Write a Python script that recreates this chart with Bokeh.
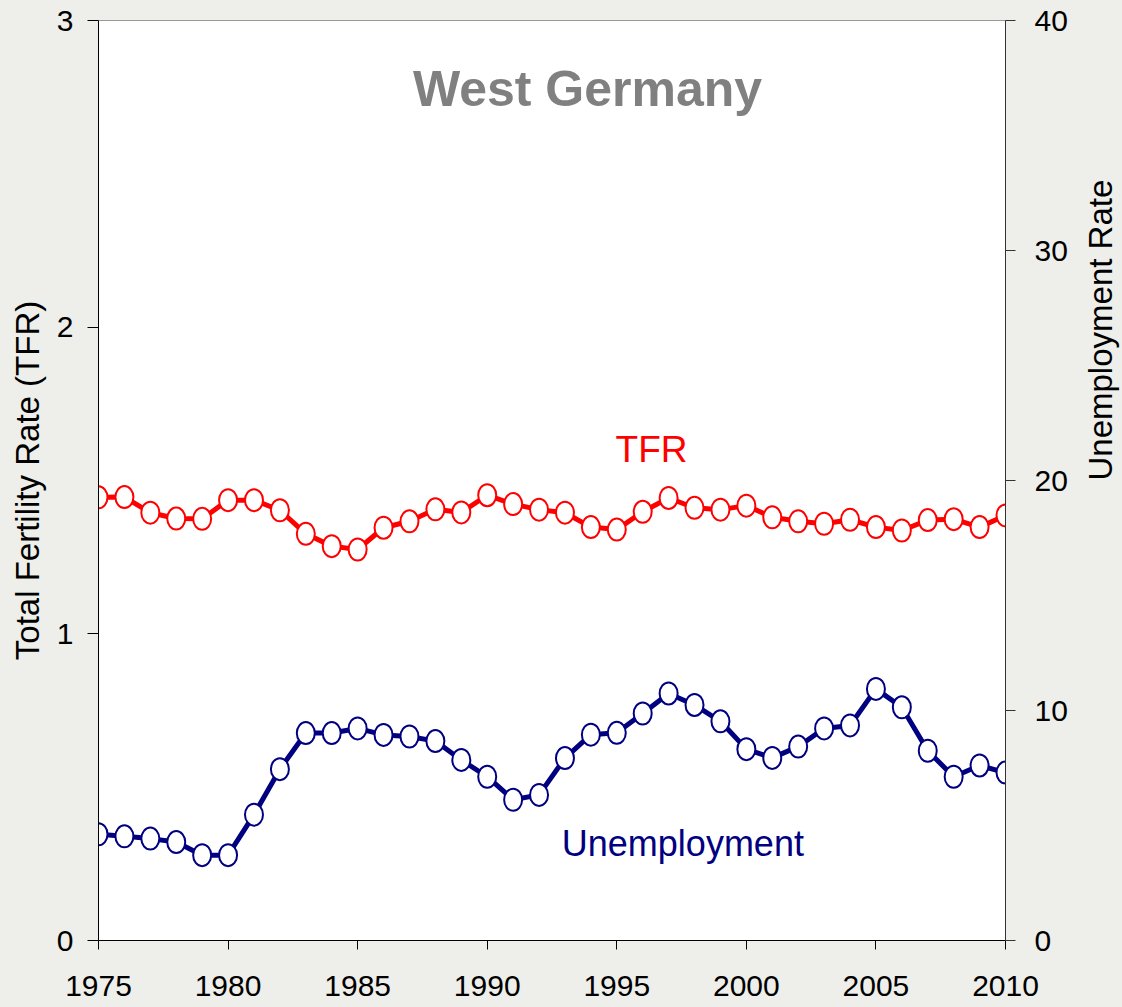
import math
from bokeh.plotting import figure
from bokeh.models import Range1d, LinearAxis, FixedTicker, Label, ColumnDataSource
from bokeh.embed import file_html
from bokeh.resources import INLINE

years = list(range(1975, 2011))
tfr = [1.445, 1.446, 1.395, 1.376, 1.375, 1.436, 1.436, 1.403, 1.326, 1.286,
       1.275, 1.346, 1.367, 1.406, 1.396, 1.452, 1.423, 1.405, 1.395, 1.348,
       1.340, 1.398, 1.443, 1.411, 1.405, 1.418, 1.380, 1.367, 1.359, 1.372,
       1.348, 1.337, 1.371, 1.374, 1.348, 1.386]
unemployment = [4.62, 4.53, 4.43, 4.28, 3.71, 3.71, 5.47, 7.45, 9.02, 9.02,
                9.22, 8.94, 8.87, 8.67, 7.85, 7.12, 6.12, 6.33, 7.93, 8.95,
                9.03, 9.87, 10.74, 10.24, 9.53, 8.32, 7.94, 8.43, 9.22, 9.35,
                10.94, 10.14, 8.25, 7.12, 7.61, 7.30]
x_ticks = [1975, 1980, 1985, 1990, 1995, 2000, 2005, 2010]
left_ticks = [0, 1, 2, 3]
right_ticks = [0, 10, 20, 30, 40]

BG = "#EEEEEA"
FONT = "Liberation Sans"

p = figure(frame_width=907, frame_height=920,
           min_border_left=98, min_border_top=20, min_border_right=116, min_border_bottom=67,
           x_range=Range1d(1975, 2010), y_range=Range1d(0, 3),
           output_backend="svg", toolbar_location=None, tools="")
p.extra_y_ranges = {"u": Range1d(0, 40)}
p.background_fill_color = "white"
p.border_fill_color = BG
p.outline_line_color = "#999999"
p.grid.visible = False

def style_axis(ax, tick_out, standoff, color="black"):
    ax.axis_line_color = color
    ax.major_tick_line_color = color
    ax.major_tick_out = tick_out
    ax.major_tick_in = 0
    ax.minor_tick_out = 0
    ax.minor_tick_in = 0
    ax.major_label_standoff = standoff
    ax.major_label_text_font = FONT
    ax.major_label_text_font_size = "30px"
    ax.major_label_text_color = "black"
    ax.axis_label_text_font = FONT
    ax.axis_label_text_font_size = "33px"
    ax.axis_label_text_font_style = "normal"
    ax.axis_label_text_color = "black"

style_axis(p.xaxis[0], 9, 26)
p.xaxis[0].ticker = FixedTicker(ticks=x_ticks)

style_axis(p.yaxis[0], 11, 14)
p.yaxis[0].ticker = FixedTicker(ticks=left_ticks)
p.yaxis[0].axis_label = "Total Fertility Rate (TFR)"
p.yaxis[0].axis_label_standoff = 8

ry = LinearAxis(y_range_name="u", ticker=FixedTicker(ticks=right_ticks))
style_axis(ry, 10, 19, color="#333333")
ry.axis_label = "Unemployment Rate"
ry.axis_label_standoff = 30
ry.axis_label_orientation = math.pi / 2
p.add_layout(ry, "right")

src = ColumnDataSource(dict(year=years, tfr=tfr, u=unemployment))

p.line("year", "tfr", source=src, line_color="#FF0000", line_width=5)
p.ellipse("year", "tfr", source=src, width=18, height=22,
          width_units="screen", height_units="screen",
          fill_color="white", line_color="#FF0000", line_width=2)

p.line("year", "u", source=src, y_range_name="u", line_color="#000080", line_width=5)
p.ellipse("year", "u", source=src, y_range_name="u", width=18, height=22,
          width_units="screen", height_units="screen",
          fill_color="white", line_color="#000080", line_width=2)

p.add_layout(Label(x=1993.87, y=2.777, text="West Germany", text_align="center",
                   text_baseline="middle", text_font=FONT, text_font_size="50px",
                   text_font_style="bold", text_color="#808080"))
p.add_layout(Label(x=1996.34, y=1.602, text="TFR", text_align="center",
                   text_baseline="middle", text_font=FONT, text_font_size="37px",
                   text_color="#FF0000"))
p.add_layout(Label(x=1997.55, y=0.3153, text="Unemployment", text_align="center",
                   text_baseline="middle", text_font=FONT, text_font_size="36px",
                   text_color="#000080"))

html = file_html(p, INLINE)
html = html.replace("<head>", "<head><style>html,body{background:%s;margin:0;overflow:hidden;}</style>" % BG, 1)
open("out.html", "w").write(html)
